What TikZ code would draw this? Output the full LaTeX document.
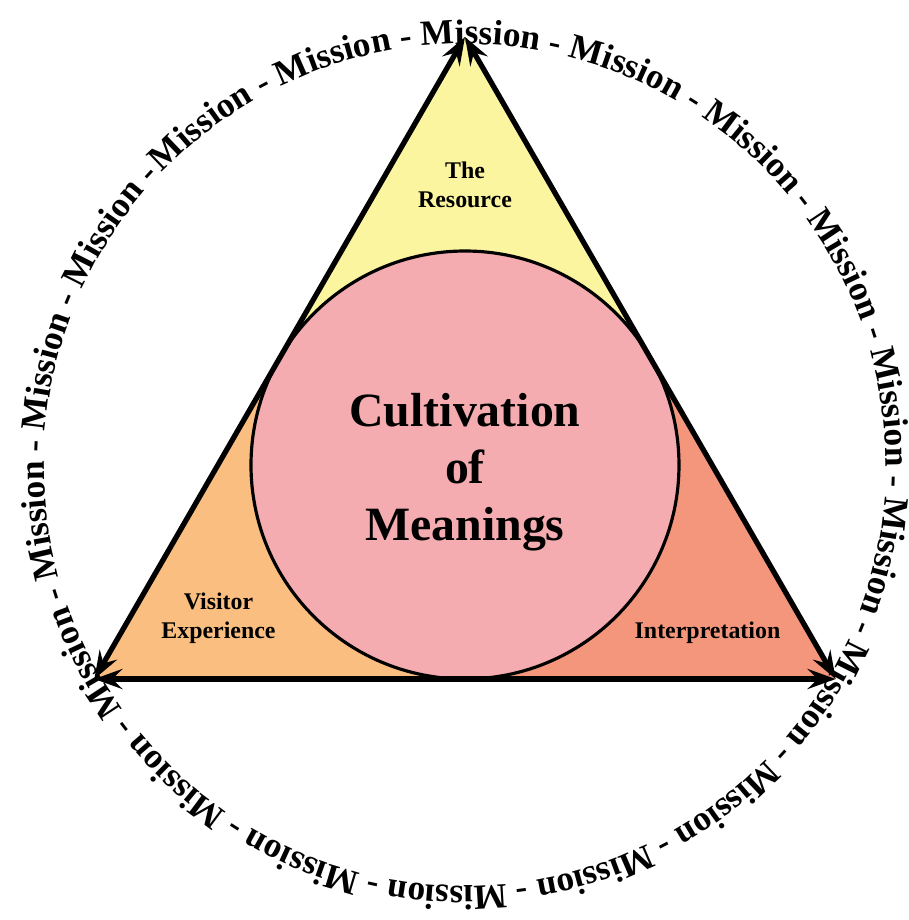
\documentclass[tikz,border=0pt]{standalone}
\usepackage{fontspec}
\setmainfont{Liberation Serif}
\usetikzlibrary{arrows.meta,decorations.text}

\definecolor{amarillo}{RGB}{252,245,160}
\definecolor{naranja}{RGB}{249,190,128}
\definecolor{salmon}{RGB}{244,150,124}
\definecolor{rosa}{RGB}{244,172,176}

\begin{document}
\begin{tikzpicture}[
    lado/.style={line width=1.5pt, {Stealth[length=2.8mm,width=2mm,inset=1mm]}-{Stealth[length=2.8mm,width=2mm,inset=1mm]}},
    etiqueta/.style={align=center, font=\bfseries\fontsize{6.8}{8.2}\selectfont}
  ]
  \useasboundingbox (-4.65,-4.55) rectangle (4.44,4.65);

  % Vertices y puntos medios del triángulo
  \coordinate (O) at (0,0);
  \coordinate (A) at (90:4.28);
  \coordinate (B) at (210:4.28);
  \coordinate (C) at (330:4.28);
  \coordinate (AB) at (150:2.14);
  \coordinate (BC) at (270:2.14);
  \coordinate (CA) at (30:2.14);

  % Regiones coloreadas
  \fill[amarillo] (A) -- (AB) -- (O) -- (CA) -- cycle;
  \fill[naranja] (B) -- (BC) -- (O) -- (AB) -- cycle;
  \fill[salmon] (C) -- (CA) -- (O) -- (BC) -- cycle;

  % Círculo central
  \draw[line width=0.9pt, fill=rosa] (O) circle (2.14);

  % Lados con flechas
  \draw[lado] (B) -- (A);
  \draw[lado] (A) -- (C);
  \draw[lado] (B) -- (C);

  % Etiquetas
  \node[etiqueta] (recurso) at (0,2.805) {The\\Resource};
  \node[etiqueta] (visitante) at (-2.465,-1.535) {Visitor\\Experience};
  \node[etiqueta] (interpretacion) at (2.425,-1.675) {Interpretation};
  \node[align=center, font=\bfseries\fontsize{13.6}{16.2}\selectfont] (centro) at (0,-0.07) {Cultivation\\of\\Meanings};

  % Texto circular
  \path[decorate, decoration={text along path, text align=left,
      text={|\bfseries\fontsize{10.05}{12}\selectfont|Mission - Mission - Mission - Mission - Mission - Mission - Mission - Mission - Mission - Mission - Mission - Mission - Mission - Mission - Mission - Mission - Mission - Mission -}}]
    (136:4.21) arc[start angle=136, end angle=-224, radius=4.21];
\end{tikzpicture}
\end{document}
